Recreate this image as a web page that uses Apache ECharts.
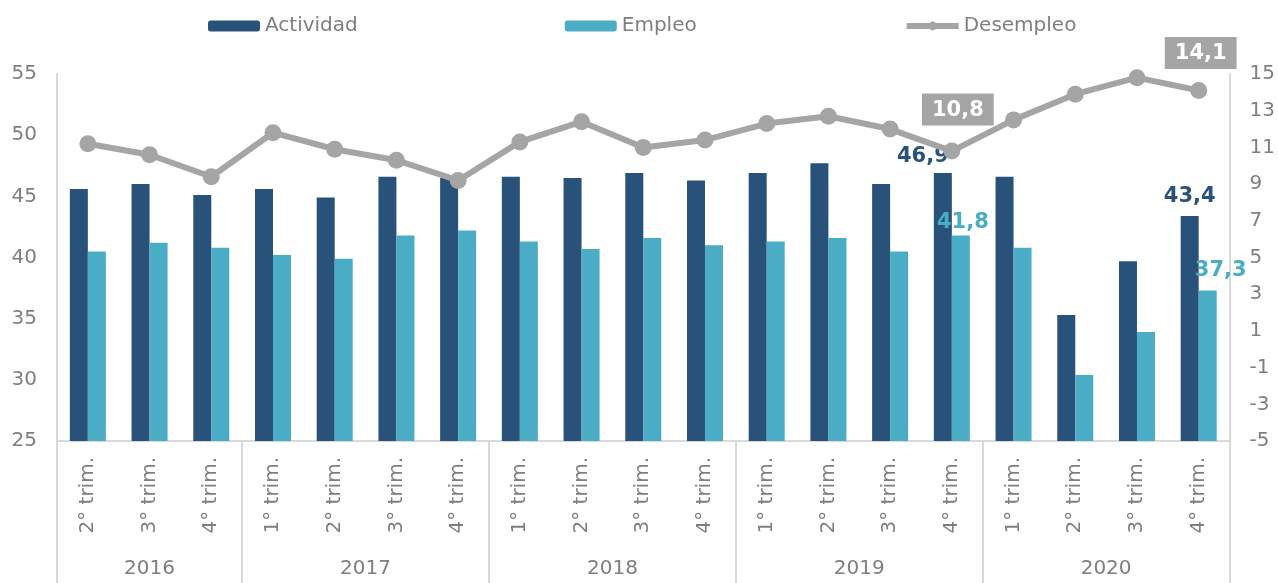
<!DOCTYPE html>
<html>
<head>
<meta charset="utf-8">
<script src="https://cdn.jsdelivr.net/npm/echarts@6/dist/echarts.min.js"></script>
<style>
  html, body { margin: 0; padding: 0; background: #fff; }
  #chart { width: 1278px; height: 583px; }
</style>
</head>
<body>
<div id="chart"></div>
<script>
// datos trimestrales (tasas, %)
const quarters = [
  '2° trim.', '3° trim.', '4° trim.',
  '1° trim.', '2° trim.', '3° trim.', '4° trim.',
  '1° trim.', '2° trim.', '3° trim.', '4° trim.',
  '1° trim.', '2° trim.', '3° trim.', '4° trim.',
  '1° trim.', '2° trim.', '3° trim.', '4° trim.'
];
const years = ['2016', '2017', '2018', '2019', '2020'];
const quartersPerYear = [3, 4, 4, 4, 4];

const actividad = [45.6, 46.0, 45.1, 45.6, 44.9, 46.6, 46.5, 46.6, 46.5, 46.9, 46.3, 46.9, 47.7, 46.0, 46.9, 46.6, 35.3, 39.7, 43.4];
const empleo = [40.5, 41.2, 40.8, 40.2, 39.9, 41.8, 42.2, 41.3, 40.7, 41.6, 41.0, 41.3, 41.6, 40.5, 41.8, 40.8, 30.4, 33.9, 37.3];
const desempleo = [11.2, 10.6, 9.4, 11.8, 10.9, 10.3, 9.2, 11.3, 12.4, 11.0, 11.4, 12.3, 12.7, 12.0, 10.8, 12.5, 13.9, 14.8, 14.1];

const GRAY = '#7f7f7f';
const LINE = '#d9d9d9';
const FONT = 'DejaVu Sans';

// limites y centros de cada año sobre el eje
const bounds = [0];
quartersPerYear.forEach(n => bounds.push(bounds[bounds.length - 1] + n));
const yearCenters = years.map((y, i) => (bounds[i] + bounds[i + 1]) / 2);

const fmt = v => String(v).replace('.', ',');

function withLabels(values, labels) {
  return values.map((v, i) => labels[i]
    ? { value: v, label: Object.assign({ show: true }, labels[i]) }
    : v);
}

const barLabel = color => ({
  position: 'top',
  color: color,
  fontWeight: 'bold',
  fontSize: 21,
  fontFamily: FONT,
  formatter: p => fmt(p.value)
});

const chart = echarts.init(document.getElementById('chart'));

chart.setOption({
  animation: false,
  textStyle: { fontFamily: FONT },
  legend: {
    data: [
      'Actividad',
      'Empleo',
      { name: 'Desempleo', lineStyle: { width: 6 } }
    ],
    left: 203,
    top: 11,
    itemWidth: 52,
    itemHeight: 11,
    itemGap: 207,
    textStyle: { fontSize: 20, color: GRAY, fontFamily: FONT }
  },
  grid: { left: 57, right: 45, top: 74, bottom: 142 },
  xAxis: [
    {
      type: 'category',
      data: quarters,
      axisLine: { onZero: false, lineStyle: { color: LINE, width: 2 } },
      axisTick: { show: false },
      axisLabel: { interval: 0, rotate: 90, margin: 16, fontSize: 20, color: GRAY, fontFamily: FONT }
    },
    {
      // separadores de años
      type: 'category',
      data: quarters,
      position: 'bottom',
      axisLine: { show: false, onZero: false },
      axisLabel: { show: false },
      axisTick: {
        show: true,
        length: 142,
        interval: idx => bounds.indexOf(idx) !== -1,
        lineStyle: { color: LINE, width: 2 }
      }
    },
    {
      // etiquetas de años
      type: 'value',
      position: 'bottom',
      min: 0,
      max: quarters.length,
      interval: 0.5,
      axisLine: { show: false, onZero: false },
      axisTick: { show: false },
      splitLine: { show: false },
      axisLabel: {
        margin: 118,
        fontSize: 20,
        color: GRAY,
        fontFamily: FONT,
        formatter: v => {
          const i = yearCenters.indexOf(v);
          return i === -1 ? '' : years[i];
        }
      }
    }
  ],
  yAxis: [
    {
      type: 'value',
      min: 25,
      max: 55,
      interval: 5,
      axisLine: { show: true, onZero: false, lineStyle: { color: LINE, width: 2 } },
      axisTick: { show: false },
      splitLine: { show: false },
      axisLabel: { margin: 20, fontSize: 20, color: GRAY, fontFamily: FONT }
    },
    {
      type: 'value',
      min: -5,
      max: 15,
      interval: 1,
      axisLine: { show: true, onZero: false, lineStyle: { color: LINE, width: 2 } },
      axisTick: { show: false },
      splitLine: { show: false },
      axisLabel: {
        margin: 20,
        fontSize: 20,
        color: GRAY,
        fontFamily: FONT,
        formatter: v => (v % 2 !== 0 ? String(v) : '')
      }
    }
  ],
  series: [
    {
      name: 'Actividad',
      type: 'bar',
      barWidth: 18,
      barGap: '0%',
      itemStyle: { color: '#29527a' },
      label: barLabel('#29527a'),
      data: withLabels(actividad, {
        14: { offset: [-20, 0], distance: 6 },
        18: { distance: 9 }
      })
    },
    {
      name: 'Empleo',
      type: 'bar',
      barWidth: 18,
      barGap: '0%',
      itemStyle: { color: '#4bacc6' },
      label: barLabel('#4bacc6'),
      data: withLabels(empleo, {
        14: { offset: [2, 0], distance: 2 },
        18: { offset: [13, 0], distance: 9 }
      })
    },
    {
      name: 'Desempleo',
      type: 'line',
      yAxisIndex: 1,
      symbol: 'circle',
      symbolSize: 17,
      lineStyle: { color: '#a5a5a5', width: 6 },
      itemStyle: { color: '#a5a5a5' },
      label: {
        position: 'top',
        color: '#fff',
        fontWeight: 'bold',
        fontSize: 21,
        fontFamily: FONT,
        backgroundColor: '#a5a5a5',
        padding: [6, 10, 5, 10],
        formatter: p => fmt(p.value)
      },
      data: withLabels(desempleo, {
        14: { offset: [6, 0], distance: 17 },
        18: { offset: [2, 0], distance: 13 }
      })
    }
  ]
});
</script>
</body>
</html>
